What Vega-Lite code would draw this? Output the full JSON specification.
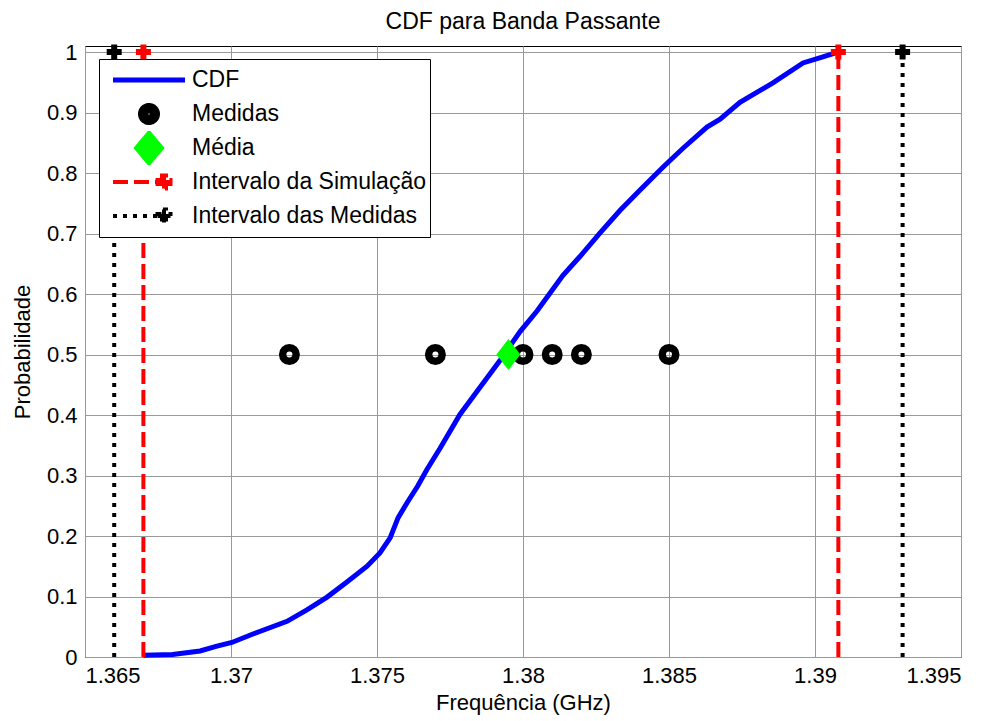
{
  "$schema": "https://vega.github.io/schema/vega-lite/v6.json",
  "width": 876,
  "height": 611,
  "autosize": {"type": "none"},
  "padding": {"left": 85, "top": 46, "right": 31, "bottom": 64},
  "background": "white",
  "title": {"text": "CDF para Banda Passante", "fontSize": 23, "font": "Liberation Sans", "fontWeight": "normal", "color": "black", "offset": 7, "anchor": "middle"},
  "datasets": {
    "cdf": [
      {"series": "CDF", "f": 1.367, "p": 0.003},
      {"series": "CDF", "f": 1.368, "p": 0.004},
      {"series": "CDF", "f": 1.36894, "p": 0.01},
      {"series": "CDF", "f": 1.36952, "p": 0.018},
      {"series": "CDF", "f": 1.37003, "p": 0.024},
      {"series": "CDF", "f": 1.37075, "p": 0.038},
      {"series": "CDF", "f": 1.37192, "p": 0.059},
      {"series": "CDF", "f": 1.3726, "p": 0.078},
      {"series": "CDF", "f": 1.37329, "p": 0.099},
      {"series": "CDF", "f": 1.37397, "p": 0.124},
      {"series": "CDF", "f": 1.37466, "p": 0.15},
      {"series": "CDF", "f": 1.3751, "p": 0.172},
      {"series": "CDF", "f": 1.37545, "p": 0.197},
      {"series": "CDF", "f": 1.37572, "p": 0.23},
      {"series": "CDF", "f": 1.37603, "p": 0.255},
      {"series": "CDF", "f": 1.3764, "p": 0.283},
      {"series": "CDF", "f": 1.37671, "p": 0.31},
      {"series": "CDF", "f": 1.37716, "p": 0.345},
      {"series": "CDF", "f": 1.37784, "p": 0.401},
      {"series": "CDF", "f": 1.37853, "p": 0.446},
      {"series": "CDF", "f": 1.37921, "p": 0.49},
      {"series": "CDF", "f": 1.3799, "p": 0.538},
      {"series": "CDF", "f": 1.38048, "p": 0.572},
      {"series": "CDF", "f": 1.38086, "p": 0.597},
      {"series": "CDF", "f": 1.38137, "p": 0.631},
      {"series": "CDF", "f": 1.38195, "p": 0.662},
      {"series": "CDF", "f": 1.38264, "p": 0.701},
      {"series": "CDF", "f": 1.38332, "p": 0.738},
      {"series": "CDF", "f": 1.38401, "p": 0.772},
      {"series": "CDF", "f": 1.3848, "p": 0.81},
      {"series": "CDF", "f": 1.38548, "p": 0.841},
      {"series": "CDF", "f": 1.3863, "p": 0.876},
      {"series": "CDF", "f": 1.38675, "p": 0.889},
      {"series": "CDF", "f": 1.38743, "p": 0.917},
      {"series": "CDF", "f": 1.38856, "p": 0.949},
      {"series": "CDF", "f": 1.38959, "p": 0.982},
      {"series": "CDF", "f": 1.39027, "p": 0.992},
      {"series": "CDF", "f": 1.39079, "p": 1.0}
    ],
    "medidas": [
      {"series": "Medidas", "f": 1.372, "p": 0.5},
      {"series": "Medidas", "f": 1.377, "p": 0.5},
      {"series": "Medidas", "f": 1.38, "p": 0.5},
      {"series": "Medidas", "f": 1.381, "p": 0.5},
      {"series": "Medidas", "f": 1.382, "p": 0.5},
      {"series": "Medidas", "f": 1.385, "p": 0.5}
    ],
    "media": [
      {"series": "Média", "f": 1.3795, "p": 0.5}
    ],
    "intervalos": [
      {"series": "Intervalo da Simulação", "id": "s1", "f": 1.367, "p": 0},
      {"series": "Intervalo da Simulação", "id": "s1", "f": 1.367, "p": 1},
      {"series": "Intervalo da Simulação", "id": "s2", "f": 1.3908, "p": 0},
      {"series": "Intervalo da Simulação", "id": "s2", "f": 1.3908, "p": 1},
      {"series": "Intervalo das Medidas", "id": "m1", "f": 1.366, "p": 0},
      {"series": "Intervalo das Medidas", "id": "m1", "f": 1.366, "p": 1},
      {"series": "Intervalo das Medidas", "id": "m2", "f": 1.393, "p": 0},
      {"series": "Intervalo das Medidas", "id": "m2", "f": 1.393, "p": 1}
    ],
    "marcadores": [
      {"series": "Intervalo da Simulação", "f": 1.367, "p": 1},
      {"series": "Intervalo da Simulação", "f": 1.3908, "p": 1},
      {"series": "Intervalo das Medidas", "f": 1.366, "p": 1},
      {"series": "Intervalo das Medidas", "f": 1.393, "p": 1}
    ]
  },
  "config": {
    "view": {"stroke": "black", "strokeWidth": 1},
    "axis": {
      "grid": true, "gridColor": "#999999", "gridWidth": 1, "gridOpacity": 1,
      "domain": false, "ticks": false,
      "labelFont": "Liberation Sans", "labelFontSize": 22, "labelColor": "black",
      "titleFont": "Liberation Sans", "titleFontSize": 22, "titleFontWeight": "normal", "titleColor": "black"
    }
  },
  "encoding": {
    "x": {
      "field": "f", "type": "quantitative",
      "scale": {"domain": [1.365, 1.395], "nice": false, "zero": false},
      "axis": {"title": "Frequência (GHz)", "values": [1.365, 1.37, 1.375, 1.38, 1.385, 1.39, 1.395], "format": ".3~f", "labelPadding": 8, "titlePadding": 6}
    },
    "y": {
      "field": "p", "type": "quantitative",
      "scale": {"domain": [0, 1.01], "nice": false, "zero": false},
      "axis": {"title": "Probabilidade", "values": [0, 0.1, 0.2, 0.3, 0.4, 0.5, 0.6, 0.7, 0.8, 0.9, 1], "format": ".1~f", "labelPadding": 8, "titlePadding": 12}
    },
    "color": {
      "field": "series", "type": "nominal",
      "scale": {
        "domain": ["CDF", "Medidas", "Média", "Intervalo da Simulação", "Intervalo das Medidas"],
        "range": ["#0000ff", "#000000", "#00ff00", "#ff0000", "#000000"]
      },
      "legend": {
        "title": null, "orient": "none", "legendX": 14, "legendY": 13,
        "padding": 4, "fillColor": "white", "strokeColor": "black",
        "labelFont": "Liberation Sans", "labelFontSize": 23, "labelColor": "black", "labelLimit": 500,
        "symbolSize": 900, "symbolStrokeWidth": 4, "labelOffset": 55, "rowPadding": 0, "clipHeight": 34,
        "encode": {
          "symbols": {
            "update": {
              "shape": {"signal": "['M-0.467,-0.933L-0.467,-0.933M-0.467,0.933L-0.467,0.933M-0.467,-0.167H4.333V0.167H-0.467Z','M-0.467,-0.933L-0.467,-0.933M-0.467,0.933L-0.467,0.933M2.533,0A0.6,0.6,0,1,1,1.333,0A0.6,0.6,0,1,1,2.533,0ZM2.1,0A0.167,0.167,0,1,0,1.767,0A0.167,0.167,0,1,0,2.1,0Z','M-0.467,-0.933L-0.467,-0.933M-0.467,0.933L-0.467,0.933M1.067,0L1.933,-1.033L2.8,0L1.933,1.033Z','M-0.467,-0.8L-0.467,-0.8M-0.467,0.8L-0.467,0.8M-0.467,0H3.467M2.5,-0.133H2.8V-0.433H3.067V-0.133H3.367V0.133H3.067V0.433H2.8V0.133H2.5Z','M-0.467,-0.8L-0.467,-0.8M-0.467,0.8L-0.467,0.8M-0.467,0H3.467M2.5,-0.133H2.8V-0.433H3.067V-0.133H3.367V0.133H3.067V0.433H2.8V0.133H2.5Z'][datum.index]"},
              "stroke": {"signal": "[null,null,null,'#ff0000','#000000'][datum.index]"},
              "fill": {"signal": "['#0000ff','#000000','#00ff00','#ff0000','#000000'][datum.index]"},
              "strokeWidth": {"value": 4},
              "strokeDash": {"signal": "[[1,0],[1,0],[1,0],[15,6],[4,6]][datum.index]"},
              "size": {"value": 900},
              "opacity": {"value": 1}
            }
          }
        }
      }
    }
  },
  "layer": [
    {"data": {"name": "cdf"}, "mark": {"type": "line", "strokeWidth": 5}},
    {"data": {"name": "medidas"}, "mark": {"type": "point", "shape": "circle", "filled": false, "size": 182, "strokeWidth": 7.5, "opacity": 1}},
    {"data": {"name": "media"}, "mark": {"type": "point", "shape": "M-0.774,0L0,-1L0.774,0L0,1Z", "filled": true, "size": 961, "opacity": 1}},
    {
      "data": {"name": "intervalos"},
      "transform": [{"filter": "datum.series === 'Intervalo da Simulação'"}],
      "mark": {"type": "line", "strokeWidth": 4, "strokeDash": [15, 6]},
      "encoding": {"detail": {"field": "id", "type": "nominal"}}
    },
    {
      "data": {"name": "intervalos"},
      "transform": [{"filter": "datum.series === 'Intervalo das Medidas'"}],
      "mark": {"type": "line", "strokeWidth": 4, "strokeDash": [4, 6]},
      "encoding": {"detail": {"field": "id", "type": "nominal"}}
    },
    {"data": {"name": "marcadores"}, "mark": {"type": "point", "shape": "cross", "filled": true, "size": 225, "opacity": 1}}
  ]
}
